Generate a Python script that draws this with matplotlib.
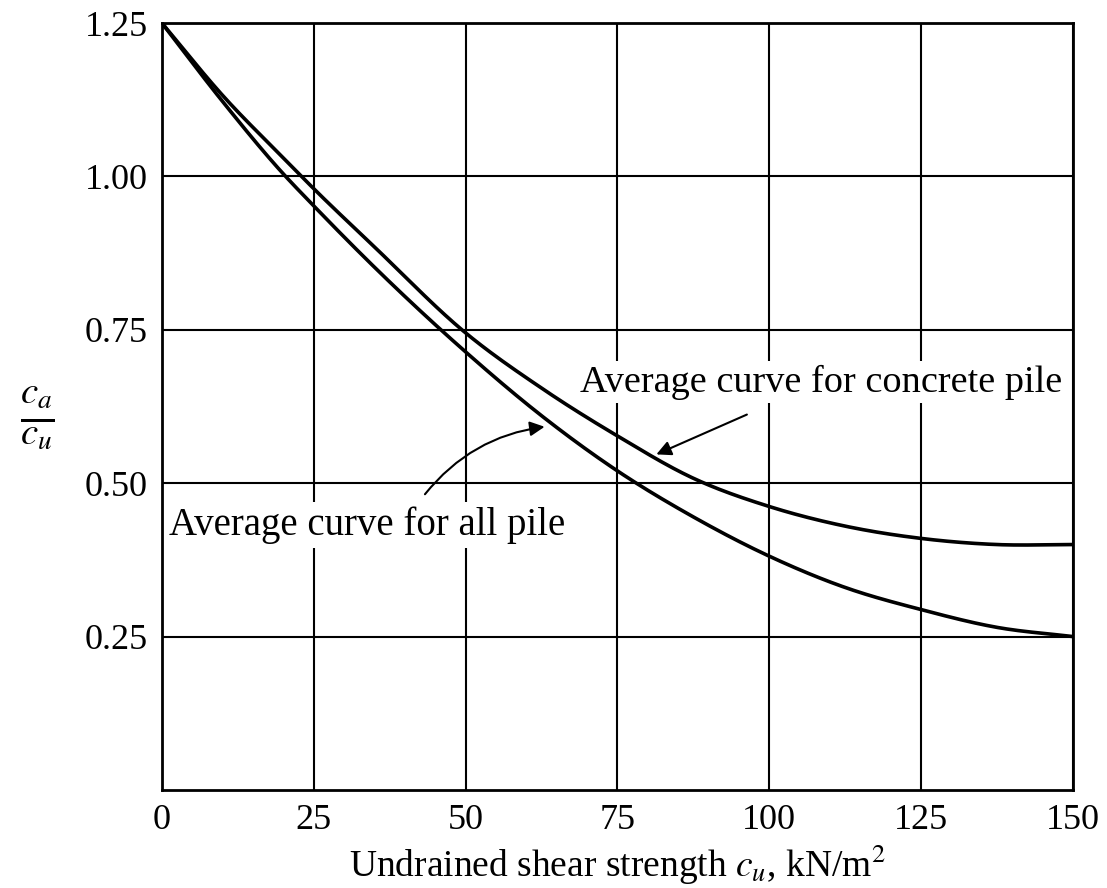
import matplotlib.pyplot as plt
import numpy as np

plt.rcParams['font.family'] = ['Liberation Serif', 'DejaVu Serif']
plt.rcParams['mathtext.fontset'] = 'stix'

cu = [0, 10, 20, 25, 35, 50, 62.5, 75, 87.5, 100, 112.5, 125, 137.5, 150]
concrete = [1.25, 1.132, 1.03, 0.98, 0.885, 0.745, 0.655, 0.577, 0.508, 0.462, 0.43, 0.41, 0.40, 0.40]
all_pile = [1.25, 1.122, 1.004, 0.952, 0.852, 0.714, 0.61, 0.52, 0.445, 0.381, 0.33, 0.294, 0.265, 0.25]

xticks = [0, 25, 50, 75, 100, 125, 150]
yticks = [0.25, 0.50, 0.75, 1.00, 1.25]
ytick_labels = ['0.25', '0.50', '0.75', '1.00', '1.25']


def smooth(x, y, n=400):
    # cubic hermite through the read points
    x = np.asarray(x, float)
    y = np.asarray(y, float)
    d = np.gradient(y, x)
    xs = np.linspace(x[0], x[-1], n)
    ys = np.empty_like(xs)
    for i, xv in enumerate(xs):
        k = min(np.searchsorted(x, xv, side='right') - 1, len(x) - 2)
        h = x[k + 1] - x[k]
        t = (xv - x[k]) / h
        h00 = 2 * t**3 - 3 * t**2 + 1
        h10 = t**3 - 2 * t**2 + t
        h01 = -2 * t**3 + 3 * t**2
        h11 = t**3 - t**2
        ys[i] = h00 * y[k] + h10 * h * d[k] + h01 * y[k + 1] + h11 * h * d[k + 1]
    return xs, ys


fig = plt.figure(figsize=(11.07, 8.88), dpi=100)
ax = fig.add_axes([0.1463, 0.1104, 0.823, 0.8636])

xs, ys = smooth(cu, concrete)
ax.plot(xs, ys, color='black', lw=2.6)
xs, ys = smooth(cu, all_pile)
ax.plot(xs, ys, color='black', lw=2.6)

ax.set_xlim(0, 150)
ax.set_ylim(0, 1.25)
ax.set_xticks(xticks)
ax.set_yticks(yticks)
ax.set_yticklabels(ytick_labels)
ax.tick_params(length=0, labelsize=26, pad=10)
ax.grid(True, color='black', lw=1.5)
for s in ax.spines.values():
    s.set_linewidth(2)

ax.set_xlabel(r'Undrained shear strength $c_u$, kN/m$^2$', fontsize=27, labelpad=4)
fig.text(0.034, 0.53, r'$\frac{c_a}{c_u}$', fontsize=40, ha='center', va='center')

ax.annotate('Average curve for concrete pile', xy=(81.4, 0.547), xytext=(108.5, 0.665),
            fontsize=27.5, ha='center', va='center',
            bbox=dict(boxstyle='square,pad=0.1', fc='white', ec='none'),
            arrowprops=dict(arrowstyle='-|>', color='black', lw=1.5,
                            shrinkA=20, shrinkB=0, mutation_scale=22))
ax.annotate('', xy=(63, 0.592), xytext=(43.3, 0.482),
            arrowprops=dict(arrowstyle='-|>', color='black', lw=1.5,
                            connectionstyle='arc3,rad=-0.2',
                            shrinkA=0, shrinkB=0, mutation_scale=22))
ax.text(1.2, 0.432, 'Average curve for all pile', fontsize=28, ha='left', va='center',
        bbox=dict(boxstyle='square,pad=0.1', fc='white', ec='none'))

fig.savefig('out.png', dpi=100)
